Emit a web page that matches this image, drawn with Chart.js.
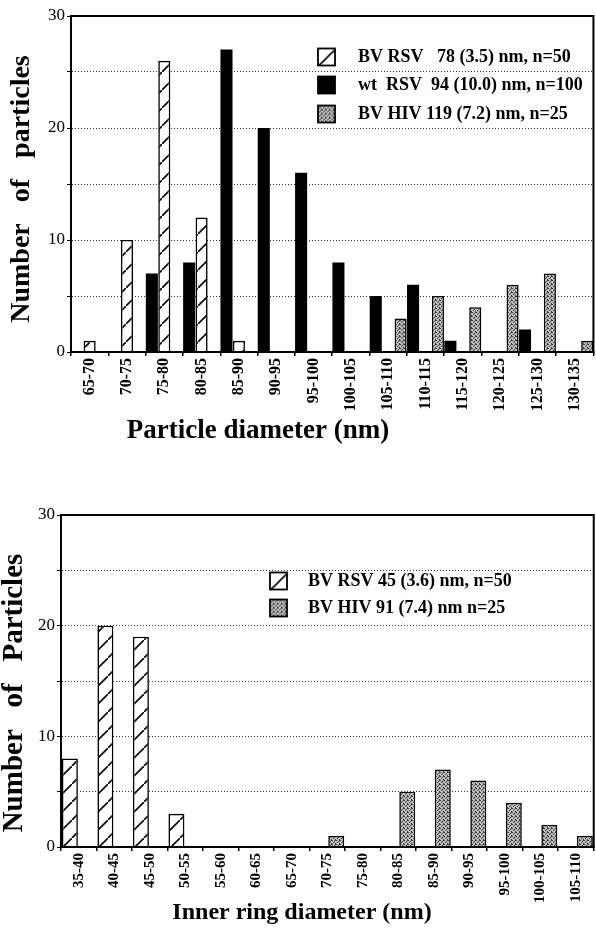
<!DOCTYPE html>
<html>
<head>
<meta charset="utf-8">
<title>Particle diameter histograms</title>
<script src="https://cdn.jsdelivr.net/npm/chart.js@4.4.1/dist/chart.umd.min.js"></script>
<style>
  body { margin: 0; background: #fff; }
  #topBox { position: absolute; left: 0; top: 0; }
  #bottomBox { position: absolute; left: 0; top: 460px; }
</style>
</head>
<body>
<div id="topBox"><canvas id="topChart" width="596" height="450"></canvas></div>
<div id="bottomBox"><canvas id="bottomChart" width="596" height="468"></canvas></div>
<script>
"use strict";

// 1: data
// top panel: particle diameter
const topCategories = ['65-70', '70-75', '75-80', '80-85', '85-90', '90-95', '95-100',
  '100-105', '105-110', '110-115', '115-120', '120-125', '125-130', '130-135'];
const wtRsvTop = [0, 0, 7, 8, 27, 20, 16, 8, 5, 6, 1, 0, 2, 0];
const bvRsvTop = [1, 10, 26, 12, 1, 0, 0, 0, 0, 0, 0, 0, 0, 0];
const bvHivTop = [0, 0, 0, 0, 0, 0, 0, 0, 3, 5, 4, 6, 7, 1];
const topLabels = ['wt  RSV  94 (10.0) nm, n=100', 'BV RSV   78 (3.5) nm, n=50', 'BV HIV 119 (7.2) nm, n=25'];

// bottom panel: inner ring diameter
const bottomCategories = ['35-40', '40-45', '45-50', '50-55', '55-60', '60-65', '65-70', '70-75',
  '75-80', '80-85', '85-90', '90-95', '95-100', '100-105', '105-110'];
const bvRsvBottom = [8, 20, 19, 3, 0, 0, 0, 0, 0, 0, 0, 0, 0, 0, 0];
const bvHivBottom = [0, 0, 0, 0, 0, 0, 0, 1, 0, 5, 7, 6, 4, 2, 1];
const bottomLabels = ['BV RSV 45 (3.6) nm, n=50', 'BV HIV 91 (7.4) nm n=25'];

// y axis: 0..30, labels every 10, dotted grid every 5
const yMax = 30;
const yStep = 5;
const yLabelEvery = 10;

const SERIF = '"Liberation Serif", "Times New Roman", serif';

// 2: fill patterns (hatch and grey stipple)
function makeHatch() {
  const size = 18;
  const c = document.createElement('canvas');
  c.width = size;
  c.height = size;
  const g = c.getContext('2d');
  g.fillStyle = '#fff';
  g.fillRect(0, 0, size, size);
  g.strokeStyle = '#000';
  g.lineWidth = 1.6;
  g.beginPath();
  g.moveTo(-2, size + 2);
  g.lineTo(size + 2, -2);
  g.stroke();
  return g.createPattern(c, 'repeat');
}

function makeStipple() {
  const c = document.createElement('canvas');
  c.width = 4;
  c.height = 4;
  const g = c.getContext('2d');
  g.fillStyle = '#c0c0c0';
  g.fillRect(0, 0, 4, 4);
  g.fillStyle = '#333';
  [[0, 0], [2, 1], [1, 2], [3, 3], [3, 0]].forEach(p => g.fillRect(p[0], p[1], 1, 1));
  return g.createPattern(c, 'repeat');
}

const hatch = makeHatch();
const stipple = makeStipple();

// 3: plugins
// black frame round the plot area
const framePlugin = {
  id: 'frame',
  afterDatasetsDraw(chart) {
    const a = chart.chartArea;
    const ctx = chart.ctx;
    ctx.save();
    ctx.setLineDash([]);
    ctx.strokeStyle = '#000';
    ctx.lineWidth = 2;
    ctx.strokeRect(a.left, a.top, a.right - a.left, a.bottom - a.top);
    ctx.restore();
  }
};

// legend drawn inside the plot, in the order given by opts.order
const boxLegendPlugin = {
  id: 'boxLegend',
  afterDraw(chart, args, opts) {
    const ctx = chart.ctx;
    ctx.save();
    ctx.font = 'bold ' + opts.fontSize + 'px ' + SERIF;
    ctx.textBaseline = 'middle';
    opts.order.forEach((dsIndex, i) => {
      const ds = chart.data.datasets[dsIndex];
      const cy = opts.rows[i];
      const s = opts.box;
      ctx.save();
      ctx.translate(opts.boxX, cy - s / 2);
      ctx.fillStyle = ds.backgroundColor;
      ctx.fillRect(0, 0, s, s);
      ctx.strokeStyle = '#000';
      ctx.lineWidth = 1.8;
      ctx.strokeRect(0, 0, s, s);
      ctx.restore();
      ctx.fillStyle = '#000';
      ctx.fillText(ds.label, opts.textX, cy);
    });
    ctx.restore();
  }
};

// axis titles, placed where the original figure has them (not centred on the plot)
const captionPlugin = {
  id: 'captions',
  afterDraw(chart, args, opts) {
    const ctx = chart.ctx;
    ctx.save();
    ctx.fillStyle = '#000';
    ctx.textAlign = 'center';
    ctx.textBaseline = 'middle';
    ctx.font = 'bold ' + opts.x.size + 'px ' + SERIF;
    ctx.fillText(opts.x.text, opts.x.cx, opts.x.cy);
    ctx.font = 'bold ' + opts.y.size + 'px ' + SERIF;
    ctx.translate(opts.y.cx, opts.y.cy);
    ctx.rotate(-Math.PI / 2);
    ctx.fillText(opts.y.text, 0, 0);
    ctx.restore();
  }
};

// 4: shared options
function buildOptions(cfg) {
  return {
    responsive: false,
    animation: false,
    devicePixelRatio: 1,
    layout: { padding: cfg.padding },
    plugins: {
      legend: { display: false },
      tooltip: { enabled: false },
      boxLegend: cfg.legend,
      captions: cfg.captions
    },
    scales: {
      x: {
        afterFit(scale) { scale.height = cfg.xHeight; },
        border: { display: true, color: '#000', width: 2 },
        grid: {
          display: true,
          drawOnChartArea: false,
          drawTicks: true,
          tickLength: 4,
          color: '#000',
          lineWidth: 1.5
        },
        ticks: {
          color: '#000',
          autoSkip: false,
          maxRotation: 90,
          minRotation: 90,
          padding: 2,
          font: { family: SERIF, size: cfg.xTickSize, weight: 'bold' }
        },
        title: { display: false }
      },
      y: {
        min: 0,
        max: yMax,
        afterFit(scale) { scale.width = cfg.yWidth; },
        // in v4 the dash of the grid lines lives under border
        border: { display: true, color: '#000', width: 2, dash: [1, 2] },
        grid: {
          color: ctx => (ctx.tick && (ctx.tick.value === 0 || ctx.tick.value === yMax)) ? 'rgba(0,0,0,0)' : '#333',
          tickColor: '#000',
          lineWidth: 1,
          tickLength: 4
        },
        ticks: {
          stepSize: yStep,
          color: '#000',
          padding: 2,
          font: { family: SERIF, size: 17 },
          callback: v => (v % yLabelEvery === 0 ? v : '')
        },
        title: { display: false }
      }
    }
  };
}

function barSet(label, data, fill, pct) {
  return {
    label: label,
    data: data,
    backgroundColor: fill,
    borderColor: '#000',
    borderWidth: fill === '#000' ? 0 : 1.6,
    borderSkipped: 'bottom',
    categoryPercentage: 1,
    barPercentage: pct
  };
}

// 5: create the charts
function appendTopChart() {
  const el = document.getElementById('topChart');
  return new Chart(el, {
    type: 'bar',
    data: {
      labels: topCategories,
      datasets: [
        barSet(topLabels[0], wtRsvTop, '#000', 0.97),
        barSet(topLabels[1], bvRsvTop, hatch, 0.97),
        barSet(topLabels[2], bvHivTop, stipple, 0.97)
      ]
    },
    options: buildOptions({
      padding: { top: 16, right: 1, bottom: 0, left: 0 },
      xHeight: 98,
      yWidth: 71,
      xTickSize: 16,
      legend: { order: [1, 0, 2], boxX: 318, box: 17, textX: 358, rows: [57, 85, 114], fontSize: 18 },
      captions: {
        x: { text: 'Particle diameter (nm)', cx: 258, cy: 431, size: 27 },
        y: { text: 'Number   of   particles', cx: 22, cy: 189, size: 28 }
      }
    }),
    plugins: [framePlugin, boxLegendPlugin, captionPlugin]
  });
}

function appendBottomChart() {
  const el = document.getElementById('bottomChart');
  return new Chart(el, {
    type: 'bar',
    data: {
      labels: bottomCategories,
      datasets: [
        barSet(bottomLabels[0], bvRsvBottom, hatch, 0.9),
        barSet(bottomLabels[1], bvHivBottom, stipple, 0.9)
      ]
    },
    options: buildOptions({
      padding: { top: 55, right: 1, bottom: 0, left: 0 },
      xHeight: 81,
      yWidth: 61,
      xTickSize: 15,
      legend: { order: [0, 1], boxX: 270, box: 17, textX: 308, rows: [121, 148], fontSize: 18 },
      captions: {
        x: { text: 'Inner ring diameter (nm)', cx: 302, cy: 453, size: 24 },
        y: { text: 'Number   of   Particles', cx: 15, cy: 233, size: 29 }
      }
    }),
    plugins: [framePlugin, boxLegendPlugin, captionPlugin]
  });
}

appendTopChart();
appendBottomChart();
</script>
</body>
</html>
